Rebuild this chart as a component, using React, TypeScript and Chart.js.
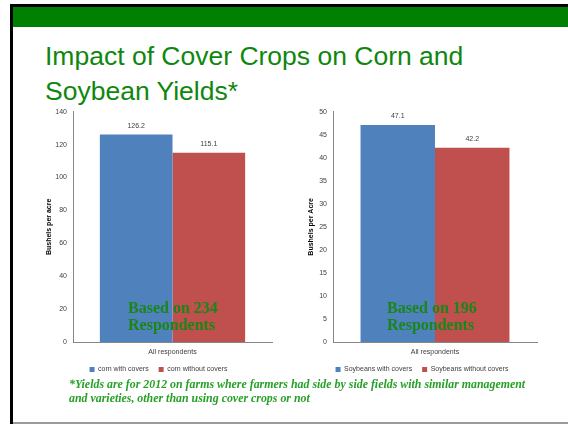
import React, { useEffect, useRef } from "react";
import { Chart, registerables } from "chart.js";

Chart.register(...registerables);

const categories = ["All respondents"];
const cornLabels = ["corn with covers", "corn without covers"];
const cornValues = [126.2, 115.1];
const soyLabels = ["Soybeans with covers", "Soybeans without covers"];
const soyValues = [47.1, 42.2];
const cornTicks = { max: 140, step: 20 };
const soyTicks = { max: 50, step: 5 };
const colors = ["#4f81bd", "#c0504d"];

const valueLabelPlugin = {
  id: "valueLabels",
  afterDatasetsDraw(chart: any) {
    const ctx = chart.ctx;
    ctx.save();
    ctx.font = "7px 'Liberation Sans', Arial, sans-serif";
    ctx.fillStyle = "#404040";
    ctx.textAlign = "center";
    ctx.textBaseline = "middle";
    chart.data.datasets.forEach((ds: any, i: number) => {
      const meta = chart.getDatasetMeta(i);
      meta.data.forEach((bar: any, j: number) => {
        ctx.fillText(String(ds.data[j]), bar.x, bar.y - 8.5);
      });
    });
    ctx.restore();
  },
};

function BarChart(props: {
  left: number;
  width: number;
  padLeft: number;
  axisWidth: number;
  labels: string[];
  values: number[];
  ticks: { max: number; step: number };
  yTitle: string;
}) {
  const ref = useRef<HTMLCanvasElement>(null);
  useEffect(() => {
    const font = { family: "'Liberation Sans', Arial, sans-serif", size: 7 };
    const chart = new Chart(ref.current as HTMLCanvasElement, {
      type: "bar",
      data: {
        labels: categories,
        datasets: props.labels.map((l, i) => ({
          label: l,
          data: [props.values[i]],
          backgroundColor: colors[i],
          barPercentage: 1,
          categoryPercentage: 0.73,
        })),
      },
      options: {
        responsive: false,
        animation: false,
        devicePixelRatio: 1,
        layout: { padding: { top: 11.7, right: 18, left: props.padLeft, bottom: 1 } },
        plugins: {
          tooltip: { enabled: false },
          legend: {
            position: "bottom",
            labels: {
              boxWidth: 5,
              boxHeight: 5,
              padding: 10,
              font,
              color: "#404040",
            },
          },
        },
        scales: {
          x: {
            grid: { display: false, drawTicks: false },
            border: { color: "#868686", width: 1 },
            ticks: { font, color: "#404040", padding: 6 },
            afterFit(s: any) {
              s.height = 14;
            },
          },
          y: {
            min: 0,
            max: props.ticks.max,
            grid: { display: false, drawTicks: false },
            border: { color: "#868686", width: 1 },
            ticks: { stepSize: props.ticks.step, font, color: "#404040", padding: 6 },
            title: {
              display: true,
              text: props.yTitle,
              font: { ...font, weight: "bold" },
              color: "#000000",
              padding: 0,
            },
            afterFit(s: any) {
              s.width = props.axisWidth;
            },
          },
        },
      },
      plugins: [valueLabelPlugin],
    } as any);
    return () => chart.destroy();
  }, []);
  return (
    <canvas
      ref={ref}
      width={props.width}
      height={284}
      style={{ position: "absolute", left: props.left, top: 100, width: props.width, height: 284 }}
    />
  );
}

const noteStyle: React.CSSProperties = {
  position: "absolute",
  fontFamily: "'Liberation Serif', 'DejaVu Serif', serif",
  fontWeight: "bold",
  fontSize: 16,
  lineHeight: "17px",
  color: "#1a861a",
  whiteSpace: "nowrap",
};

export default function App() {
  useEffect(() => {
    document.body.style.margin = "0";
  }, []);
  return (
    <div
      style={{
        position: "fixed",
        left: 0,
        top: 0,
        width: 568,
        height: 424,
        background: "#ffffff",
        overflow: "hidden",
      }}
    >
      <div style={{ position: "absolute", left: 10, top: 4, width: 558, height: 3, background: "#000" }} />
      <div style={{ position: "absolute", left: 10, top: 4, width: 3, height: 420, background: "#000" }} />
      <div style={{ position: "absolute", left: 13, top: 7, width: 555, height: 20, background: "#008000" }} />
      <div style={{ position: "absolute", left: 13, top: 422, width: 555, height: 2, background: "#9a9a9a" }} />
      <div
        style={{
          position: "absolute",
          left: 45,
          top: 39,
          fontFamily: "'Liberation Sans', Arial, sans-serif",
          fontSize: 26.5,
          lineHeight: "35px",
          color: "#0f870f",
          whiteSpace: "nowrap",
        }}
      >
        Impact of Cover Crops on Corn and
        <br />
        Soybean Yields*
      </div>
      <BarChart
        left={40}
        width={250}
        padLeft={5}
        axisWidth={28}
        labels={cornLabels}
        values={cornValues}
        ticks={cornTicks}
        yTitle="Bushels per acre"
      />
      <BarChart
        left={300}
        width={255}
        padLeft={7}
        axisWidth={26}
        labels={soyLabels}
        values={soyValues}
        ticks={soyTicks}
        yTitle="Bushels per Acre"
      />
      <div style={{ ...noteStyle, left: 128, top: 299 }}>
        Based on 234
        <br />
        Respondents
      </div>
      <div style={{ ...noteStyle, left: 387, top: 299 }}>
        Based on 196
        <br />
        Respondents
      </div>
      <div
        style={{
          position: "absolute",
          left: 69,
          top: 377,
          fontFamily: "'Liberation Serif', 'DejaVu Serif', serif",
          fontWeight: "bold",
          fontStyle: "italic",
          fontSize: 11.9,
          lineHeight: "14px",
          color: "#26a026",
          whiteSpace: "nowrap",
        }}
      >
        *Yields are for 2012 on farms where farmers had side by side fields with similar management
        <br />
        and varieties, other than using cover crops or not
      </div>
    </div>
  );
}
